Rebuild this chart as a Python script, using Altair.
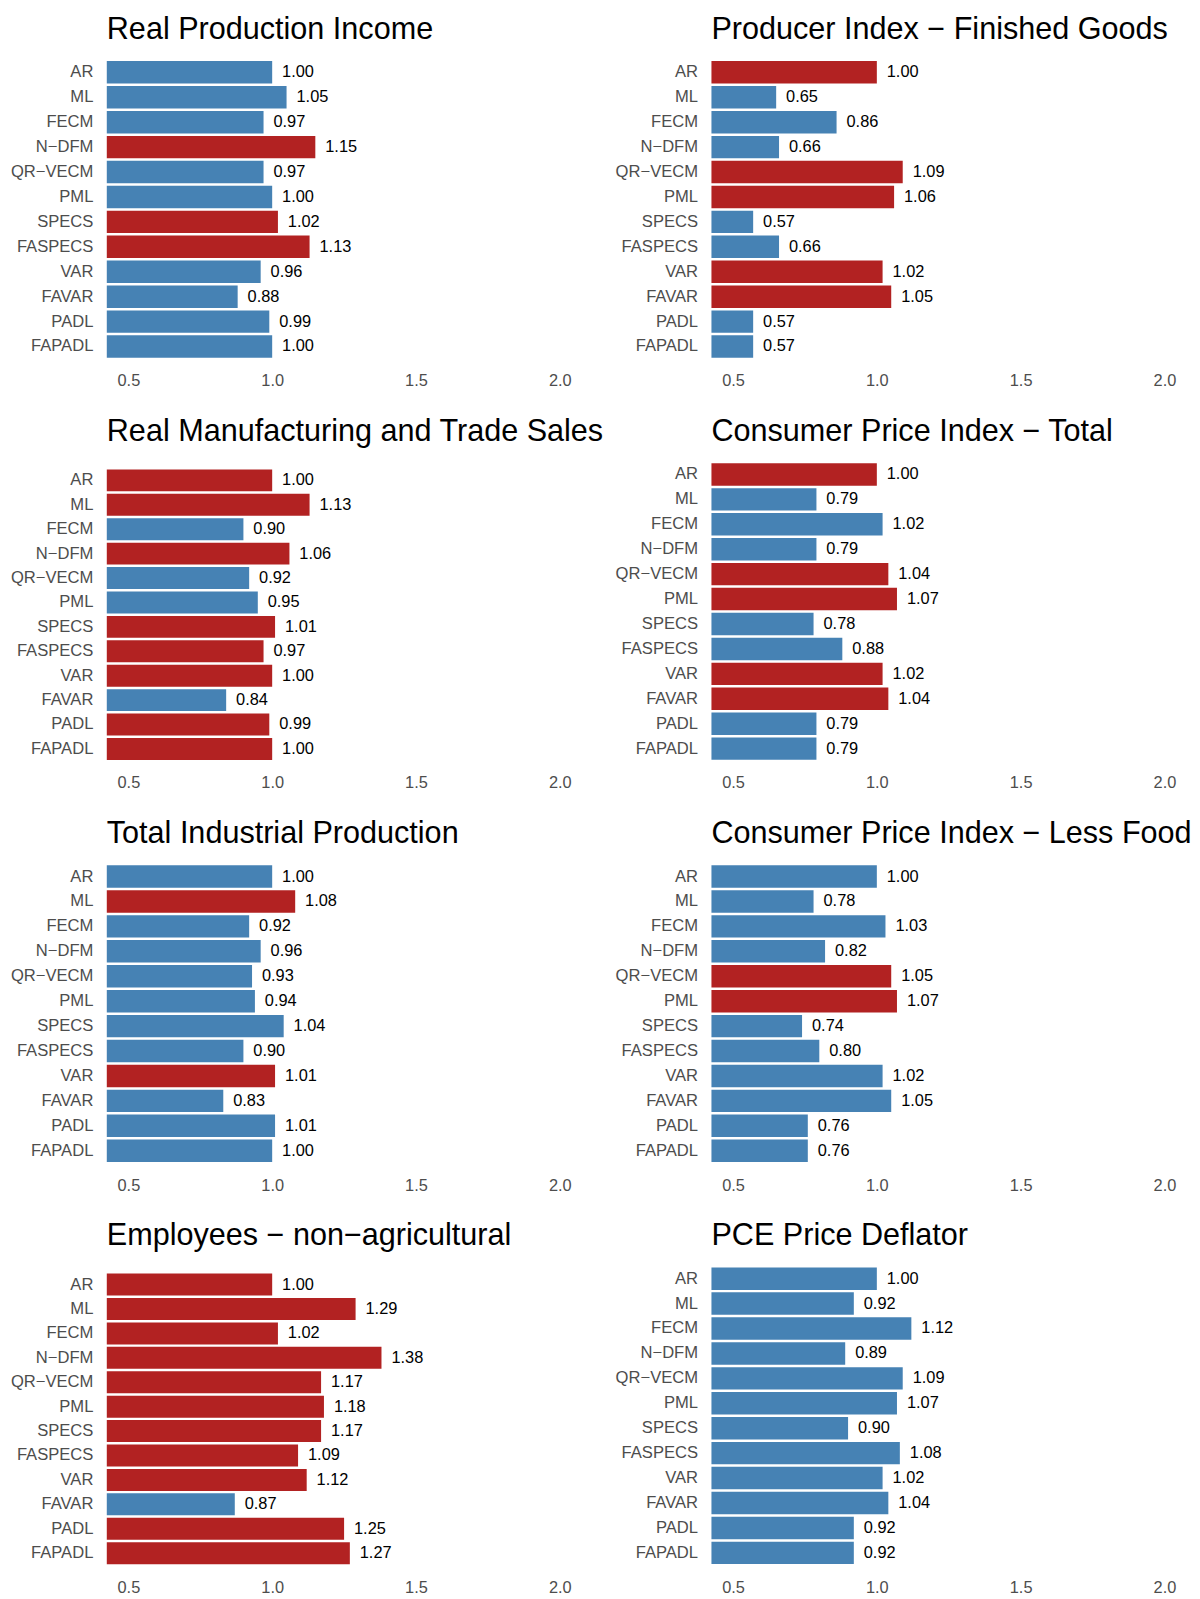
import altair as alt
import pandas as pd

FONT = "Liberation Sans"

methods = ["AR", "ML", "FECM", "N\u2212DFM", "QR\u2212VECM", "PML", "SPECS",
           "FASPECS", "VAR", "FAVAR", "PADL", "FAPADL"]

titles = [
    "Real Production Income",
    "Producer Index \u2212 Finished Goods",
    "Real Manufacturing and Trade Sales",
    "Consumer Price Index \u2212 Total",
    "Total Industrial Production",
    "Consumer Price Index \u2212 Less Food",
    "Employees \u2212 non\u2212agricultural",
    "PCE Price Deflator",
]

values = [
    [1.00, 1.05, 0.97, 1.15, 0.97, 1.00, 1.02, 1.13, 0.96, 0.88, 0.99, 1.00],
    [1.00, 0.65, 0.86, 0.66, 1.09, 1.06, 0.57, 0.66, 1.02, 1.05, 0.57, 0.57],
    [1.00, 1.13, 0.90, 1.06, 0.92, 0.95, 1.01, 0.97, 1.00, 0.84, 0.99, 1.00],
    [1.00, 0.79, 1.02, 0.79, 1.04, 1.07, 0.78, 0.88, 1.02, 1.04, 0.79, 0.79],
    [1.00, 1.08, 0.92, 0.96, 0.93, 0.94, 1.04, 0.90, 1.01, 0.83, 1.01, 1.00],
    [1.00, 0.78, 1.03, 0.82, 1.05, 1.07, 0.74, 0.80, 1.02, 1.05, 0.76, 0.76],
    [1.00, 1.29, 1.02, 1.38, 1.17, 1.18, 1.17, 1.09, 1.12, 0.87, 1.25, 1.27],
    [1.00, 0.92, 1.12, 0.89, 1.09, 1.07, 0.90, 1.08, 1.02, 1.04, 0.92, 0.92],
]

# 1 = red (firebrick), 0 = blue (steelblue)
flags = [
    [0, 0, 0, 1, 0, 0, 1, 1, 0, 0, 0, 0],
    [1, 0, 0, 0, 1, 1, 0, 0, 1, 1, 0, 0],
    [1, 1, 0, 1, 0, 0, 1, 1, 1, 0, 1, 1],
    [1, 0, 0, 0, 1, 1, 0, 0, 1, 1, 0, 0],
    [0, 1, 0, 0, 0, 0, 0, 0, 1, 0, 0, 0],
    [0, 0, 0, 0, 1, 1, 0, 0, 0, 0, 0, 0],
    [1, 1, 1, 1, 1, 1, 1, 1, 1, 0, 1, 1],
    [0, 0, 0, 0, 0, 0, 0, 0, 0, 0, 0, 0],
]

# titles with descenders take a little more room (as in the original)
descender = [False, False, True, False, False, False, True, False]

W = 478
H = 306.3
DESC = 6.3
XDOM = [0.425, 2.075]


def panel(i):
    df = pd.DataFrame({
        "method": methods,
        "value": values[i],
        "group": ["red" if f else "blue" for f in flags[i]],
        "label": [f"{v:.2f}" for v in values[i]],
    })
    top = DESC if descender[i] else 0
    yscale = alt.Scale(domain=methods, paddingInner=0.1, paddingOuter=0.15,
                       range=[top, H])
    yaxis = alt.Axis(title=None, domain=False, ticks=False, grid=False,
                     labelPadding=14, labelFontSize=16.7, labelFont=FONT,
                     labelColor="#4D4D4D")
    xscale = alt.Scale(domain=XDOM, nice=False, zero=False)
    xaxis = alt.Axis(title=None, domain=False, ticks=False, grid=False,
                     values=[0.5, 1.0, 1.5, 2.0], format=".1f",
                     labelPadding=11.5, labelFontSize=16.5, labelFont=FONT,
                     labelColor="#4D4D4D")
    base = alt.Chart(df).encode(
        y=alt.Y("method:N", sort=methods, scale=yscale, axis=yaxis)
    )
    bars = base.mark_bar(clip=True).encode(
        x=alt.X("value:Q", scale=xscale, axis=xaxis),
        x2=alt.datum(0),
        color=alt.Color("group:N",
                        scale=alt.Scale(domain=["blue", "red"],
                                        range=["#4682B4", "#B22222"]),
                        legend=None),
    )
    text = base.mark_text(align="left", baseline="middle", dx=10,
                          fontSize=16.5, font=FONT, color="black").encode(
        x=alt.X("value:Q", scale=xscale),
        text="label:N",
    )
    return alt.layer(bars, text).properties(
        width=W, height=H,
        title=alt.TitleParams(titles[i], anchor="start", frame="group",
                              fontSize=30.8, font=FONT, fontWeight="normal",
                              baseline="alphabetic", offset=-11.8,
                              color="black"),
    )


panels = [panel(i) for i in range(8)]

chart = alt.concat(*panels, columns=2,
                   spacing={"row": 98.0, "column": 131},
                   bounds="flush").properties(
    padding={"left": 2.5, "top": 0, "right": 0, "bottom": 0},
    background="white",
).configure_view(stroke=None)

chart.save("out.html", embed_options={"renderer": "svg", "actions": False})
